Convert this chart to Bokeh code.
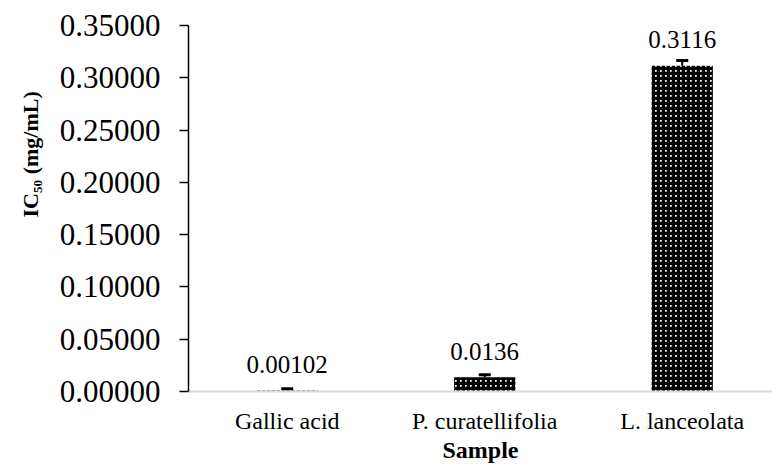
import numpy as np
from bokeh.plotting import figure
from bokeh.models import (ColumnDataSource, Range1d, FixedTicker,
                          NumeralTickFormatter, Whisker, TeeHead, Title)
from bokeh.embed import file_html
from bokeh.resources import INLINE
from bokeh.core.properties import value

categories = ["Gallic acid", "P. curatellifolia", "L. lanceolata"]
ic50 = [0.00102, 0.0136, 0.3116]
errors = [0.0015, 0.0025, 0.005]
value_labels = ["0.00102", "0.0136", "0.3116"]
y_ticks = [0.0, 0.05, 0.10, 0.15, 0.20, 0.25, 0.30, 0.35]

FONT = "Liberation Serif"

xpos = [i + 0.5 for i in range(len(categories))]
src = ColumnDataSource(dict(
    x=xpos, top=ic50, lbl=value_labels,
    lower=[v - e for v, e in zip(ic50, errors)],
    upper=[v + e for v, e in zip(ic50, errors)],
))

p = figure(width=772, height=465, output_backend="svg", toolbar_location=None,
           x_range=Range1d(0, 2.957), y_range=Range1d(0, 0.35),
           min_border_left=188, min_border_right=0, min_border_top=25, min_border_bottom=74)
p.outline_line_color = None
p.xgrid.visible = False
p.ygrid.visible = False
p.background_fill_color = "white"

p.vbar(x="x", top="top", width=0.31, source=src, fill_color="white", line_color=None,
       hatch_pattern="+", hatch_color="black", hatch_scale=5, hatch_weight=3.5)

w = Whisker(source=src, base="x", upper="upper", lower="lower", line_color="black", line_width=2,
            upper_head=TeeHead(size=12, line_width=3, line_color="black"),
            lower_head=TeeHead(size=12, line_width=3, line_color="black"))
p.add_layout(w)

p.text(x="x", y="top", text="lbl", source=src, text_font=value(FONT), text_font_size="25px",
       text_align="center", text_baseline="middle", y_offset=-26, text_color="black")

# y axis
p.yaxis.ticker = FixedTicker(ticks=y_ticks)
p.yaxis.formatter = NumeralTickFormatter(format="0.00000")
p.yaxis.major_label_text_font = FONT
p.yaxis.major_label_text_font_size = "31px"
p.yaxis.major_label_text_color = "black"
p.yaxis.major_label_standoff = 19
p.yaxis.axis_line_color = "black"
p.yaxis.axis_line_width = 1.5
p.yaxis.major_tick_in = 0
p.yaxis.major_tick_out = 9
p.yaxis.major_tick_line_width = 1.5
p.yaxis.minor_tick_line_color = None

# x axis
p.xaxis.ticker = FixedTicker(ticks=xpos)
p.xaxis.major_label_overrides = {x: c for x, c in zip(xpos, categories)}
p.xaxis.major_label_text_font = FONT
p.xaxis.major_label_text_font_size = "24px"
p.xaxis.major_label_text_color = "black"
p.xaxis.major_label_standoff = 10
p.xaxis.axis_line_color = "#d9d9d9"
p.xaxis.axis_line_width = 2
p.xaxis.major_tick_line_color = None
p.xaxis.minor_tick_line_color = None
p.xaxis.axis_label = "Sample"
p.xaxis.axis_label_text_font = FONT
p.xaxis.axis_label_text_font_size = "24px"
p.xaxis.axis_label_text_font_style = "bold"
p.xaxis.axis_label_text_color = "black"
p.xaxis.axis_label_standoff = 0

ytitle = Title(text="IC\u2085\u2080 (mg/mL)", align="left", offset=174,
               text_font=FONT, text_font_size="22px", text_font_style="bold",
               text_color="black", standoff=27)
p.add_layout(ytitle, "left")

open("out.html", "w").write(file_html(p, INLINE))
